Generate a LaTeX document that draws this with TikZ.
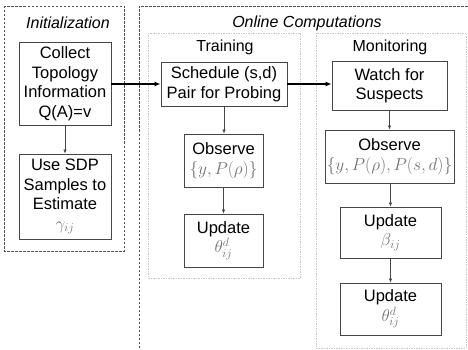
\documentclass[tikz,border=0pt]{standalone}
\usepackage{fontspec}
\setmainfont{Liberation Sans}
\usetikzlibrary{arrows.meta}
\definecolor{boxgray}{RGB}{70,70,70}
\definecolor{framegray}{RGB}{200,200,200}
\definecolor{mathgray}{RGB}{115,115,115}
\definecolor{dashgray}{RGB}{80,80,80}
\newcommand{\mth}[1]{{\fontsize{18}{20}\selectfont\color{mathgray}$#1$}}
\begin{document}
\begin{tikzpicture}[x=1pt,y=-1pt,
  box/.style={draw=boxgray, line width=0.9pt, fill=white, inner sep=0pt, align=center,
    font=\fontsize{16.5}{19.5}\selectfont},
  group/.style={draw=dashgray, line width=0.55pt, dash pattern=on 2.5pt off 1.5pt},
  sub/.style={draw=framegray, line width=0.8pt, dash pattern=on 1.5pt off 1pt},
  ttl/.style={font=\fontsize{16}{19}\selectfont\itshape, inner sep=0pt},
  subttl/.style={font=\fontsize{16}{19}\selectfont, inner sep=0pt},
  thin/.style={draw=boxgray, line width=0.6pt, -{Latex[length=4pt,width=3.5pt]}},
  thick/.style={draw=black, line width=1.5pt, -{Latex[length=6pt,width=5pt]}}]
\useasboundingbox (0,0) rectangle (468,350);
% containers
\draw[group] (4,6) rectangle (124,251);
\begin{scope}
\clip (0,0) rectangle (468,350);
\draw[group] (139,360) -- (139,6) -- (478,6);
\end{scope}
\draw[sub] (148,33) rectangle (300,278);
\draw[sub] (316,33) rectangle (466,348);
% titles
\node[ttl] (tinit) at (68,23) {Initialization};
\node[ttl] (tonline) at (307,23) {Online Computations};
\node[subttl] (ttrain) at (225,47) {Training};
\node[subttl] (tmon) at (390,47) {Monitoring};
% boxes
\node[box, minimum width=92pt, minimum height=83pt] (collect) at (65,83.5)
  {Collect\\Topology\\Information\\Q(A)=v};
\node[box, minimum width=92pt, minimum height=85pt] (sdp) at (65,196.5)
  {Use SDP\\Samples to\\Estimate\\\mth{\gamma_{ij}}};
\node[box, minimum width=126pt, minimum height=44pt] (sched) at (224,84)
  {Schedule (s,d)\\Pair for Probing};
\node[box, minimum width=79pt, minimum height=53pt] (obst) at (223.5,160.5)
  {Observe\\\mth{\{y,P(\rho)\}}};
\node[box, minimum width=79pt, minimum height=53pt] (updt) at (223.5,240.5)
  {Update\\\mth{\theta^d_{ij}}};
\node[box, minimum width=115pt, minimum height=49pt] (watch) at (389.5,85.5)
  {Watch for\\Suspects};
\node[box, minimum width=129pt, minimum height=53pt] (obsm) at (389.5,156.5)
  {Observe\\\mth{\{y,P(\rho),P(s,d)\}}};
\node[box, minimum width=101pt, minimum height=51pt] (updb) at (390.5,232.5)
  {Update\\\mth{\beta_{ij}}};
\node[box, minimum width=101pt, minimum height=52pt] (updth) at (390.5,309)
  {Update\\\mth{\theta^d_{ij}}};
% connectors
\draw[thick] (collect.east |- sched.west) -- (sched.west);
\draw[thick] (sched.east) -- (sched.east -| watch.west);
\draw[thin] (collect.south) -- (sdp.north);
\draw[thin] (sched.south) -- (sched.south |- obst.north);
\draw[thin] (obst.south) -- (updt.north);
\draw[thin] (watch.south) -- (obsm.north);
\draw[thin] (obsm.south -| updb.north) -- (updb.north);
\draw[thin] (updb.south) -- (updth.north);
\end{tikzpicture}
\end{document}
